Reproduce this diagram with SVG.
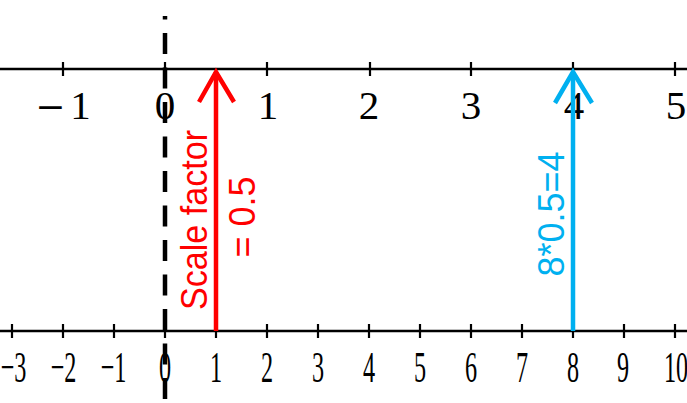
<svg xmlns="http://www.w3.org/2000/svg" width="687" height="403" viewBox="0 0 687 403">
<style>
.axis{stroke:#000;stroke-width:2.5;fill:none}
.tick{stroke:#000;stroke-width:2.2;fill:none}
.top{font-family:"Liberation Serif","DejaVu Serif",serif;font-size:41px;fill:#000;text-anchor:middle}
.mn{font-family:"DejaVu Serif",serif;font-size:36px}
.bot{font-family:"Liberation Serif","DejaVu Serif",serif;font-size:44px;fill:#000;text-anchor:middle}
.dash{stroke:#000;stroke-width:4.5;stroke-dasharray:21 13.5;stroke-dashoffset:17.5;fill:none}
.red{stroke:#FF0000;stroke-width:4.5;fill:none}
.blue{stroke:#00B0F0;stroke-width:4.5;fill:none}
.lbl{font-family:"Liberation Sans","Noto Sans",sans-serif;font-size:36px;text-anchor:middle}
</style>
<rect width="687" height="403" fill="#fff"/>
<g id="top-axis">
<line class="axis" x1="0" y1="69" x2="687" y2="69"/>
<path class="tick" d="M63 62V76M165 62V76M267 62V76M370 62V76M471 62V76M573 62V76M675 62V76"/>
<text class="top" x="63" y="119"><tspan class="mn">−</tspan><tspan dx="5">1</tspan></text>
<text class="top" x="165" y="119">0</text>
<text class="top" x="268" y="119">1</text>
<text class="top" x="369" y="119">2</text>
<text class="top" x="471" y="119">3</text>
<text class="top" x="574" y="119">4</text>
<text class="top" x="676" y="119">5</text>
</g>
<g id="bottom-axis">
<line class="axis" x1="0" y1="331" x2="687" y2="331"/>
<path class="tick" d="M12 324V338M63 324V338M114 324V338M165 324V338M216 324V338M267 324V338M318 324V338M369 324V338M420 324V338M471 324V338M522 324V338M573 324V338M624 324V338M675 324V338"/>
<text class="bot" transform="translate(13.5,382) scale(0.55,1)">−3</text>
<text class="bot" transform="translate(63.5,382) scale(0.55,1)">−2</text>
<text class="bot" transform="translate(113.5,382) scale(0.55,1)">−1</text>
<text class="bot" transform="translate(165,382) scale(0.55,1)">0</text>
<text class="bot" transform="translate(216,382) scale(0.55,1)">1</text>
<text class="bot" transform="translate(267,382) scale(0.55,1)">2</text>
<text class="bot" transform="translate(318,382) scale(0.55,1)">3</text>
<text class="bot" transform="translate(369,382) scale(0.55,1)">4</text>
<text class="bot" transform="translate(420,382) scale(0.55,1)">5</text>
<text class="bot" transform="translate(471,382) scale(0.55,1)">6</text>
<text class="bot" transform="translate(522,382) scale(0.55,1)">7</text>
<text class="bot" transform="translate(573,382) scale(0.55,1)">8</text>
<text class="bot" transform="translate(623,382) scale(0.55,1)">9</text>
<text class="bot" transform="translate(676,382) scale(0.55,1)">10</text>
</g>
<g id="zero-line">
<line class="dash" x1="165" y1="16" x2="165" y2="403"/>
</g>
<g id="connectors">
<g id="red-arrow">
<line class="red" x1="216" y1="331" x2="216" y2="72"/>
<polyline class="red" points="199,102 216,72 234,102"/>
</g>
<g id="blue-arrow">
<line class="blue" x1="573" y1="331" x2="573" y2="72"/>
<polyline class="blue" points="555,103 573,72 592,103"/>
</g>
</g>
<g id="red-label" fill="#FF0000">
<text class="lbl" transform="translate(207,220) rotate(-90)" textLength="180" lengthAdjust="spacingAndGlyphs">Scale factor</text>
<text class="lbl" transform="translate(255,217) rotate(-90)">= 0.5</text>
</g>
<g id="blue-label" fill="#00B0F0">
<text class="lbl" transform="translate(563.5,214) rotate(-90)">8*0.5=4</text>
</g>
</svg>
